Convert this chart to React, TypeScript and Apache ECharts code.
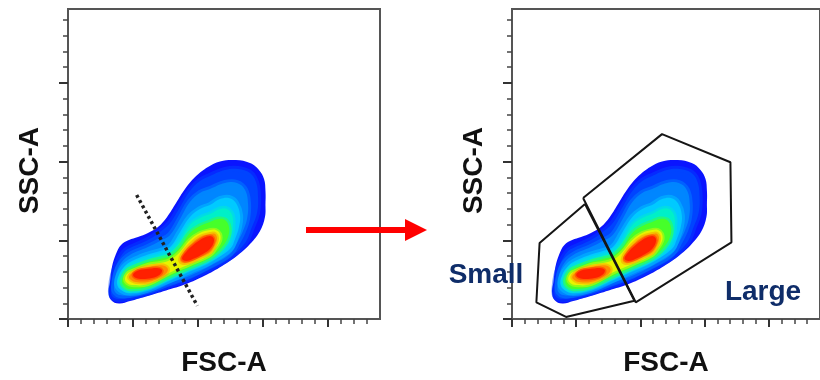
import React, { useEffect, useRef } from "react";
import * as echarts from "echarts";

// ---- axes (FSC-A / SSC-A, thousands) ----
const X_MAX = 240;
const Y_MAX = 197;
const X_MAJOR = [0, 50, 100, 150, 200];
const X_MINOR = [10, 20, 30, 40, 60, 70, 80, 90, 110, 120, 130, 140, 160, 170, 180, 190, 210, 220, 230];
const Y_MAJOR = [0, 50, 100, 150];
const Y_MINOR = [10, 20, 30, 40, 60, 70, 80, 90, 110, 120, 130, 140, 160, 170, 180, 190];

// ---- density level contours, outer -> inner ----
const LEVEL_1 = [
  [31.2, 17.2], [32.3, 23.5], [33.8, 33.0], [36.9, 41.3], [40.8, 47.0], [46.9, 50.2], [53.8, 52.1],
  [61.5, 54.6], [69.2, 58.4], [76.2, 64.8], [83.1, 73.7], [90.0, 82.6], [98.5, 90.8], [107.7, 96.6],
  [116.9, 100.1], [129.2, 101.0], [140.0, 99.1], [146.9, 94.7], [150.8, 88.9], [151.9, 81.3],
  [151.9, 73.1], [151.5, 64.8], [147.7, 55.9], [140.0, 47.6], [130.8, 40.7], [118.5, 33.7],
  [104.6, 27.3], [90.8, 22.2], [75.4, 18.1], [60.0, 14.3], [47.7, 11.4], [39.2, 9.8], [33.1, 12.1],
];
const LEVEL_2 = [
  [33.1, 19.1], [34.6, 28.0], [38.5, 36.8], [43.8, 43.2], [47.7, 45.1], [61.5, 50.2], [70.8, 55.3],
  [78.5, 61.0], [86.2, 71.2], [93.8, 81.3], [101.5, 87.7], [109.2, 90.9], [120.8, 94.7], [130.8, 95.3],
  [140.0, 92.8], [144.6, 87.0], [146.2, 77.5], [145.4, 67.3], [141.5, 58.4], [136.2, 48.3],
  [124.6, 39.4], [109.2, 32.1], [93.8, 26.0], [78.5, 21.6], [61.5, 16.8], [47.7, 13.7], [38.5, 12.7],
  [33.8, 14.6],
];
const LEVEL_3 = [
  [35.4, 20.3], [36.9, 28.6], [40.8, 35.6], [47.7, 40.7], [61.5, 45.7], [70.8, 49.6], [78.5, 53.4],
  [86.2, 63.5], [93.8, 74.3], [101.5, 80.1], [109.2, 82.6], [120.8, 86.4], [130.0, 86.4], [136.2, 82.0],
  [138.5, 73.1], [137.7, 63.5], [134.6, 55.9], [130.8, 49.6], [124.6, 41.3], [109.2, 33.7],
  [93.8, 27.5], [78.5, 22.9], [61.5, 17.8], [47.7, 15.2], [40.0, 15.2], [36.2, 17.2],
];
const LEVEL_4 = [
  [37.7, 22.2], [39.2, 28.0], [43.1, 33.0], [47.7, 36.2], [61.5, 41.0], [70.8, 43.2], [78.5, 45.7],
  [86.2, 55.3], [93.8, 64.8], [101.5, 69.9], [109.2, 72.4], [116.9, 76.2], [123.8, 76.9], [129.2, 73.7],
  [132.3, 66.1], [131.5, 58.4], [128.5, 50.8], [124.6, 44.5], [109.2, 36.2], [93.8, 30.5],
  [78.5, 24.8], [61.5, 18.7], [47.7, 16.5], [40.8, 18.4],
];
const LEVEL_5 = [
  [40.0, 23.5], [41.5, 28.0], [44.6, 31.8], [47.7, 33.7], [61.5, 38.1], [70.8, 40.3], [78.5, 42.6],
  [86.2, 49.6], [93.8, 59.7], [101.5, 64.2], [109.2, 66.7], [116.9, 69.9], [122.3, 69.9], [126.2, 66.1],
  [126.9, 59.7], [125.4, 52.1], [121.5, 45.7], [109.2, 37.5], [93.8, 31.8], [78.5, 26.0],
  [61.5, 19.7], [47.7, 17.8], [42.3, 19.7],
];
const LEVEL_6 = [
  [41.5, 24.1], [43.1, 28.0], [45.4, 30.5], [47.7, 31.8], [61.5, 36.2], [70.8, 38.1], [78.5, 40.0],
  [86.2, 45.7], [93.8, 54.6], [101.5, 59.1], [109.2, 61.6], [115.4, 63.5], [120.8, 62.9], [123.8, 58.4],
  [123.1, 52.1], [118.5, 45.7], [109.2, 38.8], [93.8, 33.0], [78.5, 27.3], [61.5, 20.6],
  [47.7, 19.1], [43.1, 21.0],
];
const LEVEL_7 = [
  [43.8, 25.4], [45.4, 28.6], [48.5, 30.2], [61.5, 34.3], [70.8, 35.6], [78.5, 37.5], [86.2, 42.6],
  [93.8, 50.2], [101.5, 54.6], [109.2, 56.5], [113.8, 56.5], [116.9, 54.0], [116.9, 49.6], [113.1, 44.5],
  [109.2, 40.7], [93.8, 34.9], [78.5, 29.5], [61.5, 22.2], [49.2, 21.6], [45.4, 22.9],
];
const LEVEL_8A = [
  [46.9, 26.7], [49.2, 29.2], [53.1, 31.4], [61.5, 33.0], [69.2, 34.0], [74.6, 33.7], [76.9, 31.1],
  [73.1, 27.3], [61.5, 23.5], [52.3, 23.5], [48.5, 24.8],
];
const LEVEL_8B = [
  [86.2, 37.5], [88.5, 41.9], [93.8, 47.0], [101.5, 52.1], [109.2, 54.0], [113.1, 54.0], [114.6, 50.8],
  [112.3, 45.7], [109.2, 42.2], [101.5, 39.1], [93.8, 36.2], [88.5, 35.6],
];
const LEVEL_9A = [
  [50.0, 28.0], [52.3, 30.2], [56.9, 31.4], [63.1, 32.1], [68.5, 32.4], [72.3, 31.1], [70.8, 28.3],
  [64.6, 26.0], [56.9, 25.4], [52.3, 26.0],
];
const LEVEL_9B = [
  [87.7, 38.4], [90.8, 42.6], [95.4, 46.4], [101.5, 50.2], [106.9, 52.4], [110.8, 52.4], [112.3, 49.6],
  [109.2, 44.5], [103.8, 41.3], [96.9, 38.4], [90.8, 36.8],
];
const LEVELS = [
  [LEVEL_1], [LEVEL_2], [LEVEL_3], [LEVEL_4], [LEVEL_5], [LEVEL_6], [LEVEL_7],
  [LEVEL_8A, LEVEL_8B], [LEVEL_9A, LEVEL_9B],
];

// ---- split line (left) and gates (right) ----
const SPLIT_LINE = [[52.8, 78.8], [99.5, 8.4]];
const GATE_LARGE = [[55.4, 76.9], [116.9, 117.5], [170.2, 99.6], [171.0, 48.7], [96.4, 10.6], [55.4, 76.9]];
const GATE_SMALL = [[56.9, 73.1], [21.5, 48.3], [19.0, 10.6], [42.1, 1.3], [95.4, 11.6], [56.9, 73.1]];

// ---- styling ----
const LEVEL_COLORS = [
  "#0a14ff", "#0044ff", "#0086ff", "#00caff", "#00f0c8", "#46ff2a", "#e8f400", "#ff8c00", "#ff2000",
];
const LEVEL_SOFT = [0, 6, 6, 6, 5, 5, 4, 4, 3];
const FONT = "Liberation Sans";

function App() {
  const ref = useRef<HTMLDivElement>(null);
  useEffect(() => {
    if (!ref.current) return;
    const chart = echarts.init(ref.current, undefined, { renderer: "svg" });

    const renderItem = (params: any, api: any) => {
      const i = params.dataIndex;
      const color = LEVEL_COLORS[i];
      const soft = LEVEL_SOFT[i];
      return {
        type: "group",
        children: LEVELS[i].map((poly) => ({
          type: "polygon",
          silent: true,
          shape: { points: poly.map((p) => api.coord(p)), smooth: 0.4 },
          style: soft
            ? { fill: color, stroke: color, lineWidth: soft, strokeOpacity: 0.45, lineJoin: "round" }
            : { fill: color },
        })),
      };
    };

    const nameStyle = { fontFamily: FONT, fontWeight: "bold" as const, fontSize: 28, color: "#111" };

    const xMajor = (gridIndex: number) => ({
      type: "value", gridIndex, min: 0, max: X_MAX, interval: 50, position: "bottom",
      axisLine: { show: true, onZero: false, lineStyle: { color: "#555", width: 2 } },
      axisTick: { show: true, length: 8, customValues: X_MAJOR, lineStyle: { color: "#333", width: 2 } },
      axisLabel: { show: false }, splitLine: { show: false },
      name: "FSC-A", nameLocation: "middle", nameGap: 28, nameTextStyle: nameStyle,
    });
    const xMinor = (gridIndex: number) => ({
      type: "value", gridIndex, min: 0, max: X_MAX, interval: 10, position: "bottom",
      axisLine: { show: false },
      axisTick: { show: true, length: 5, customValues: X_MINOR, lineStyle: { color: "#444", width: 1.5 } },
      axisLabel: { show: false }, splitLine: { show: false },
    });
    const yMajor = (gridIndex: number) => ({
      type: "value", gridIndex, min: 0, max: Y_MAX, interval: 50, position: "left",
      axisLine: { show: true, onZero: false, lineStyle: { color: "#555", width: 2 } },
      axisTick: { show: true, length: 9, customValues: Y_MAJOR, lineStyle: { color: "#333", width: 2 } },
      axisLabel: { show: false }, splitLine: { show: false },
      name: "SSC-A", nameLocation: "middle", nameGap: 26,
      nameTextStyle: { ...nameStyle, padding: [0, 13, 0, 0] },
    });
    const yMinor = (gridIndex: number) => ({
      type: "value", gridIndex, min: 0, max: Y_MAX, interval: 10, position: "left",
      axisLine: { show: false },
      axisTick: { show: true, length: 5, customValues: Y_MINOR, lineStyle: { color: "#444", width: 1.5 } },
      axisLabel: { show: false }, splitLine: { show: false },
    });

    const gridBase = { top: 9, width: 312, height: 311, show: true, borderColor: "#555", borderWidth: 2, backgroundColor: "transparent" };

    const densitySeries = (axisIndex: number) => ({
      type: "custom",
      xAxisIndex: axisIndex, yAxisIndex: axisIndex,
      renderItem,
      data: LEVELS.map((_, i) => [i, 0]),
      silent: true,
      z: 2,
    });

    const gateStyle = { color: "#151515", width: 2 };

    chart.setOption({
      animation: false,
      grid: [
        { ...gridBase, left: 68 },
        { ...gridBase, left: 512 },
      ],
      xAxis: [xMajor(0), xMinor(0), xMajor(1), xMinor(1)],
      yAxis: [yMajor(0), yMinor(0), yMajor(1), yMinor(1)],
      series: [
        densitySeries(0),
        densitySeries(2),
        {
          type: "line", xAxisIndex: 0, yAxisIndex: 0, data: SPLIT_LINE, symbol: "none", z: 5,
          lineStyle: { color: "#222", width: 3.5, type: [3, 3] }, silent: true,
        },
        {
          type: "line", xAxisIndex: 2, yAxisIndex: 2, data: GATE_LARGE, symbol: "none", z: 5,
          lineStyle: gateStyle, silent: true,
        },
        {
          type: "line", xAxisIndex: 2, yAxisIndex: 2, data: GATE_SMALL, symbol: "none", z: 5,
          lineStyle: gateStyle, silent: true,
        },
      ],
      graphic: [
        { type: "rect", shape: { x: 306, y: 227, width: 102, height: 6 }, style: { fill: "#ff0000" }, z: 100 },
        { type: "polygon", shape: { points: [[405, 219], [427, 230], [405, 241]] }, style: { fill: "#ff0000" }, z: 100 },
        {
          type: "text", x: 486, y: 273, z: 100,
          style: { text: "Small", fontFamily: FONT, fontWeight: "bold", fontSize: 28, fill: "#0f2d69", align: "center", verticalAlign: "middle" },
        },
        {
          type: "text", x: 763, y: 290, z: 100,
          style: { text: "Large", fontFamily: FONT, fontWeight: "bold", fontSize: 28, fill: "#0f2d69", align: "center", verticalAlign: "middle" },
        },
      ],
    });
    return () => chart.dispose();
  }, []);
  return <div ref={ref} style={{ position: "fixed", left: 0, top: 0, width: 820, height: 380 }} />;
}

export default App;
